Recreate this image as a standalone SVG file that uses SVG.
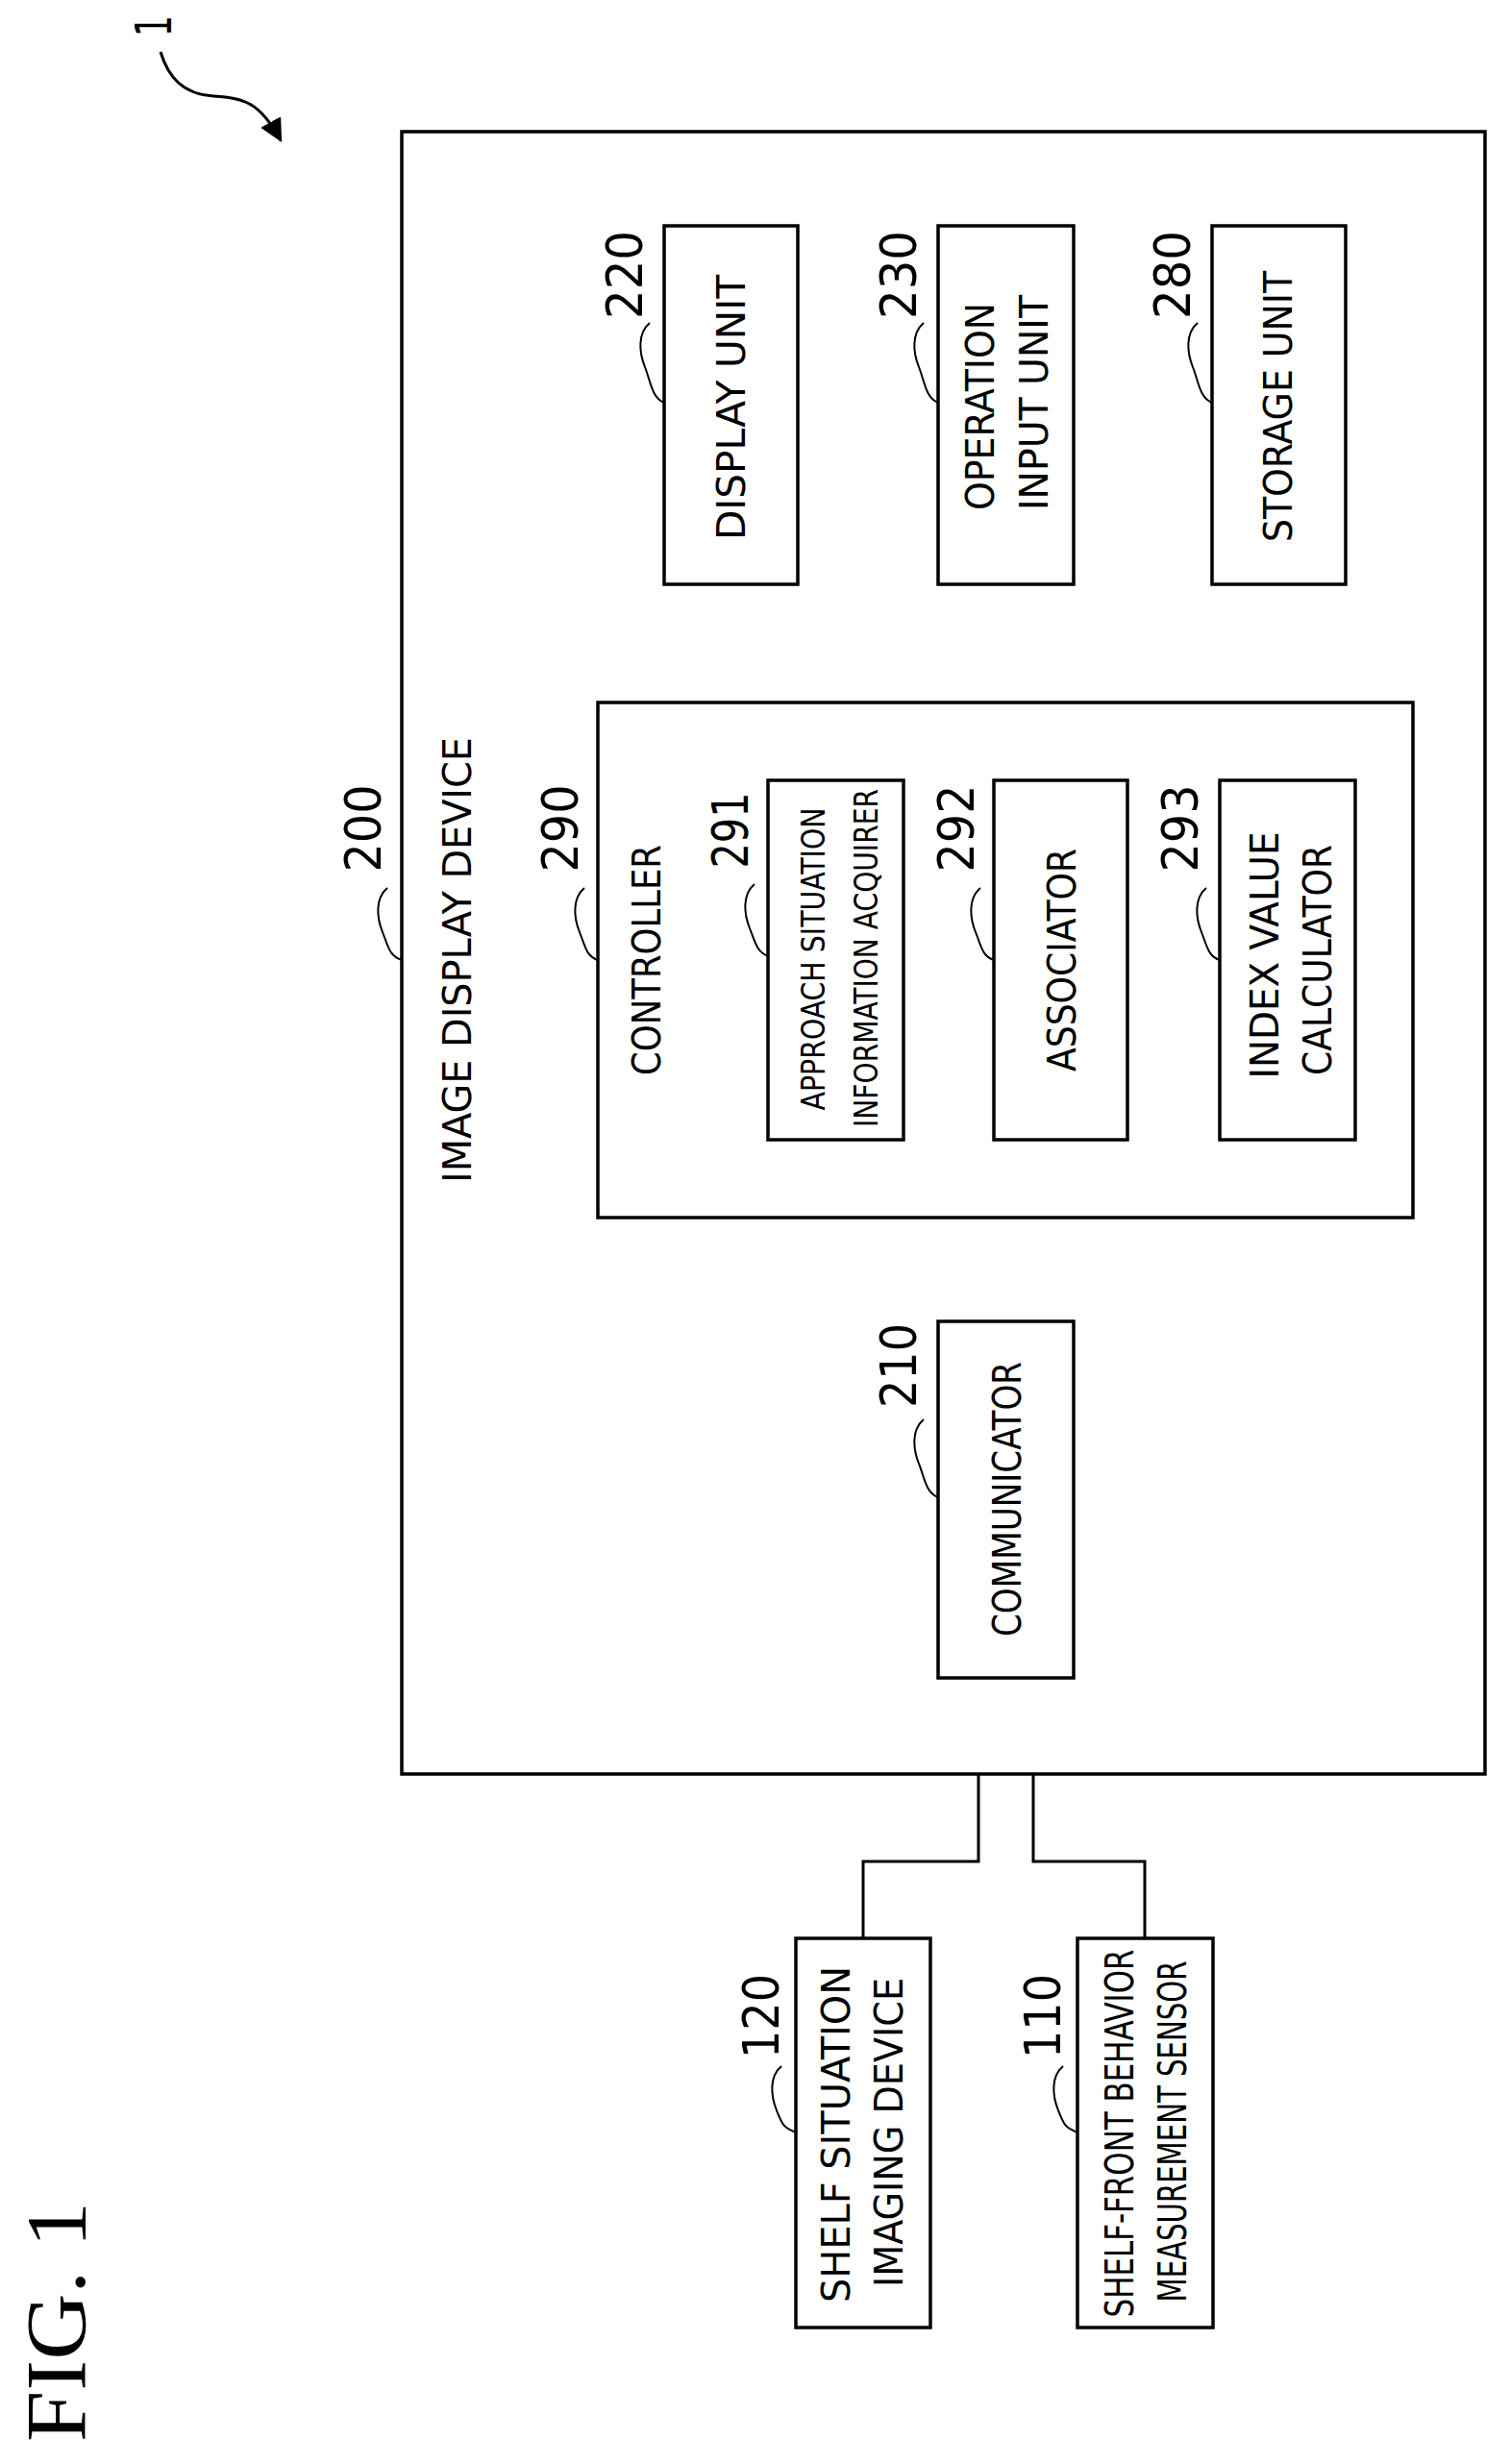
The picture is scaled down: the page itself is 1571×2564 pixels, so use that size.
<svg xmlns="http://www.w3.org/2000/svg" width="1571" height="2564" viewBox="0 0 1571 2564">
<style>
.b{fill:#fff;stroke:#000;stroke-width:3.5}
.l{fill:none;stroke:#000;stroke-width:3}
.q{fill:none;stroke:#000;stroke-width:2}
text{font-family:"DejaVu Sans Condensed","DejaVu Sans",sans-serif;font-size:40px;text-anchor:middle;dominant-baseline:central;fill:#000}
.n{font-family:"Liberation Sans Narrow","DejaVu Sans",sans-serif;font-size:52px}
</style>
<defs><marker id="ah" viewBox="0 0 10 10" refX="9" refY="5" markerWidth="8" markerHeight="8" orient="auto-start-reverse"><path d="M0 0L10 5L0 10z" fill="#000"/></marker></defs>
<rect width="1571" height="2564" fill="#fff"/>
<g id="ref1"><text class="n" transform="translate(160,27) rotate(-90)" textLength="22" lengthAdjust="spacingAndGlyphs">1</text><path class="l" d="M167 54C175 80 190 98 222 100S270 106 292 146" marker-end="url(#ah)"/></g>
<g id="connectors">
<path class="l" d="M762 608V731M1046 608V731M1331 608V731M1046 1267V1375M1018 1746V1937H898V2017M1075 1746V1937H1191V2017"/>
</g>
<g id="n200"><rect class="b" x="418" y="137" width="1127" height="1709"/><text transform="translate(476,999) rotate(-90)" textLength="464" lengthAdjust="spacingAndGlyphs">IMAGE DISPLAY DEVICE</text><text class="n" transform="translate(378,862) rotate(-90)" textLength="91" lengthAdjust="spacingAndGlyphs">200</text><path class="q" d="M403 924C390 935 392 955 398 970S405 995 418 999"/></g>
<g id="n220"><rect class="b" x="691" y="235" width="139" height="373"/><text transform="translate(761,424) rotate(-90)" textLength="276" lengthAdjust="spacingAndGlyphs">DISPLAY UNIT</text><text class="n" transform="translate(650,286) rotate(-90)" textLength="92" lengthAdjust="spacingAndGlyphs">220</text><path class="q" d="M676 336C663 347 665 367 671 382S678 414 691 419"/></g>
<g id="n230"><rect class="b" x="976" y="235" width="141" height="373"/><text transform="translate(1020,423) rotate(-90)" textLength="216" lengthAdjust="spacingAndGlyphs">OPERATION</text><text transform="translate(1076,419) rotate(-90)" textLength="224" lengthAdjust="spacingAndGlyphs">INPUT UNIT</text><text class="n" transform="translate(935,286) rotate(-90)" textLength="92" lengthAdjust="spacingAndGlyphs">230</text><path class="q" d="M961 336C948 347 950 367 956 382S963 414 976 419"/></g>
<g id="n280"><rect class="b" x="1261" y="235" width="139" height="373"/><text transform="translate(1330,423) rotate(-90)" textLength="282" lengthAdjust="spacingAndGlyphs">STORAGE UNIT</text><text class="n" transform="translate(1220,286) rotate(-90)" textLength="92" lengthAdjust="spacingAndGlyphs">280</text><path class="q" d="M1246 336C1233 347 1235 367 1241 382S1248 414 1261 419"/></g>
<g id="n290"><rect class="b" x="622" y="731" width="848" height="536"/><text transform="translate(673,999) rotate(-90)" textLength="240" lengthAdjust="spacingAndGlyphs">CONTROLLER</text><text class="n" transform="translate(583,862) rotate(-90)" textLength="91" lengthAdjust="spacingAndGlyphs">290</text><path class="q" d="M608 924C595 935 597 955 603 970S610 995 622 999"/></g>
<g id="n291"><rect class="b" x="799" y="812" width="141" height="374"/><text style="font-size:34px" transform="translate(846,998) rotate(-90)" textLength="315" lengthAdjust="spacingAndGlyphs">APPROACH SITUATION</text><text style="font-size:34px" transform="translate(901,997) rotate(-90)" textLength="352" lengthAdjust="spacingAndGlyphs">INFORMATION ACQUIRER</text><text class="n" transform="translate(760,864) rotate(-90)" textLength="79" lengthAdjust="spacingAndGlyphs">291</text><path class="q" d="M785 920C772 931 774 951 780 966S787 990 799 995"/></g>
<g id="n292"><rect class="b" x="1034" y="812" width="139" height="374"/><text transform="translate(1105,999) rotate(-90)" textLength="232" lengthAdjust="spacingAndGlyphs">ASSOCIATOR</text><text class="n" transform="translate(995,862) rotate(-90)" textLength="91" lengthAdjust="spacingAndGlyphs">292</text><path class="q" d="M1020 924C1007 935 1009 955 1015 970S1022 995 1034 999"/></g>
<g id="n293"><rect class="b" x="1269" y="812" width="141" height="374"/><text transform="translate(1316,994) rotate(-90)" textLength="257" lengthAdjust="spacingAndGlyphs">INDEX VALUE</text><text transform="translate(1371,999) rotate(-90)" textLength="240" lengthAdjust="spacingAndGlyphs">CALCULATOR</text><text class="n" transform="translate(1228,862) rotate(-90)" textLength="91" lengthAdjust="spacingAndGlyphs">293</text><path class="q" d="M1255 924C1242 935 1244 955 1250 970S1257 995 1269 999"/></g>
<g id="n210"><rect class="b" x="976" y="1375" width="141" height="371"/><text transform="translate(1048,1560) rotate(-90)" textLength="286" lengthAdjust="spacingAndGlyphs">COMMUNICATOR</text><text class="n" transform="translate(935,1421) rotate(-90)" textLength="88" lengthAdjust="spacingAndGlyphs">210</text><path class="q" d="M961 1477C948 1488 950 1508 956 1523S963 1553 976 1558"/></g>
<g id="n120"><rect class="b" x="828" y="2017" width="140" height="405"/><text transform="translate(870,2221) rotate(-90)" textLength="350" lengthAdjust="spacingAndGlyphs">SHELF SITUATION</text><text transform="translate(925,2219) rotate(-90)" textLength="322" lengthAdjust="spacingAndGlyphs">IMAGING DEVICE</text><text class="n" transform="translate(792,2098) rotate(-90)" textLength="88" lengthAdjust="spacingAndGlyphs">120</text><path class="q" d="M813 2150C800 2161 802 2181 808 2196S815 2214 828 2219"/></g>
<g id="n110"><rect class="b" x="1121" y="2017" width="141" height="405"/><text transform="translate(1165,2220) rotate(-90)" textLength="383" lengthAdjust="spacingAndGlyphs">SHELF-FRONT BEHAVIOR</text><text transform="translate(1220,2218) rotate(-90)" textLength="355" lengthAdjust="spacingAndGlyphs">MEASUREMENT SENSOR</text><text class="n" transform="translate(1085,2098) rotate(-90)" textLength="88" lengthAdjust="spacingAndGlyphs">110</text><path class="q" d="M1106 2150C1093 2161 1095 2181 1101 2196S1108 2214 1121 2219"/></g>
<text style="font-family:'Liberation Serif',serif;font-size:88px" transform="translate(58,2416) rotate(-90)" textLength="250" lengthAdjust="spacingAndGlyphs">FIG. 1</text>
</svg>
